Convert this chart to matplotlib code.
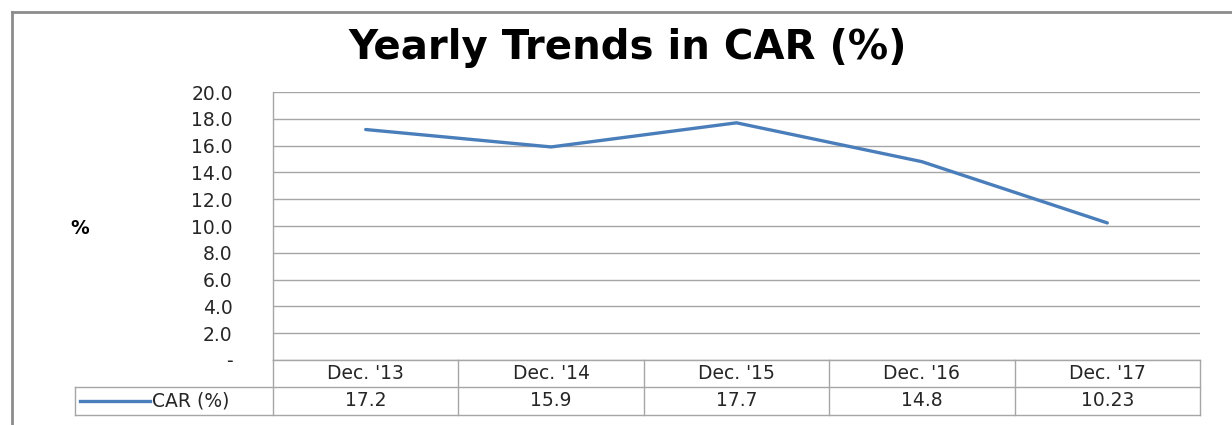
import matplotlib
matplotlib.use("Agg")
import matplotlib.pyplot as plt
from matplotlib.lines import Line2D
import matplotlib.transforms as mtransforms

# data
periods = ["Dec. '13", "Dec. '14", "Dec. '15", "Dec. '16", "Dec. '17"]
car = [17.2, 15.9, 17.7, 14.8, 10.23]
car_labels = ["17.2", "15.9", "17.7", "14.8", "10.23"]
series_name = "CAR (%)"
y_ticks = [0, 2, 4, 6, 8, 10, 12, 14, 16, 18, 20]

plt.rcParams["font.family"] = ["DejaVu Sans"]

W, H = 1232, 425
fig = plt.figure(figsize=(W / 100, H / 100), dpi=100)

line_color = "#4a7ebb"
grid_color = "#a6a6a6"
text_color = "#262626"
fs = 13.5

# plot area in pixels: x 273..1200, y 92..360
ax = fig.add_axes([273 / W, 1 - 360 / H, (1200 - 273) / W, (360 - 92) / H])
xs = list(range(len(periods)))
ax.plot(xs, car, color=line_color, lw=2.4, solid_capstyle="round")
ax.set_xlim(-0.5, len(periods) - 0.5)
ax.set_ylim(0, 20)
ax.set_yticks(y_ticks)
ax.set_yticklabels(["-" if v == 0 else f"{v:.1f}" for v in y_ticks],
                   fontsize=fs, color=text_color)
ax.tick_params(axis="y", length=0, pad=29)
ax.set_xticks([])
ax.grid(axis="y", color=grid_color, lw=1)
ax.set_axisbelow(True)
for s in ["top", "right", "bottom"]:
    ax.spines[s].set_visible(False)
ax.spines["left"].set_color(grid_color)
ax.spines["left"].set_linewidth(1)

# data table under the plot
trans = mtransforms.blended_transform_factory(ax.transData, fig.transFigure)
y_top = 1 - 360 / H
y_mid = 1 - 387 / H
y_bot = 1 - 415 / H
left_cell = -0.5 - (273 - 75) / ((1200 - 273) / len(periods))
tab_kw = dict(color=grid_color, lw=1, transform=trans, clip_on=False)

fig.add_artist(Line2D([-0.5, len(periods) - 0.5], [y_top, y_top], **tab_kw))
fig.add_artist(Line2D([left_cell, len(periods) - 0.5], [y_mid, y_mid], **tab_kw))
fig.add_artist(Line2D([left_cell, len(periods) - 0.5], [y_bot, y_bot], **tab_kw))
fig.add_artist(Line2D([left_cell, left_cell], [y_mid, y_bot], **tab_kw))
for i in range(len(periods) + 1):
    fig.add_artist(Line2D([i - 0.5, i - 0.5], [y_top, y_bot], **tab_kw))

for i, (p, v) in enumerate(zip(periods, car_labels)):
    fig.text(i, (y_top + y_mid) / 2, p, transform=trans, ha="center", va="center",
             fontsize=fs, color=text_color)
    fig.text(i, (y_mid + y_bot) / 2, v, transform=trans, ha="center", va="center",
             fontsize=fs, color=text_color)

# legend key in the row header
y_row = (y_mid + y_bot) / 2
fig.add_artist(Line2D([80 / W, 150 / W], [y_row, y_row], color=line_color, lw=2.4))
fig.text(152 / W, y_row, series_name, ha="left", va="center", fontsize=fs, color=text_color)

# title and axis label
fig.text(628 / W, 1 - 48 / H, "Yearly Trends in CAR (%)", ha="center", va="center",
         fontsize=29, fontweight="bold", color="black")
fig.text(80 / W, 1 - 228 / H, "%", ha="center", va="center", fontsize=fs,
         fontweight="bold", color="black")

# outer chart frame (cropped on right and bottom)
frame_kw = dict(color="#8c8c8c", lw=2)
fig.add_artist(Line2D([12 / W, 12 / W], [0, 1 - 12 / H], **frame_kw))
fig.add_artist(Line2D([12 / W, 1], [1 - 12 / H, 1 - 12 / H], **frame_kw))

fig.savefig("out.png", dpi=100)
